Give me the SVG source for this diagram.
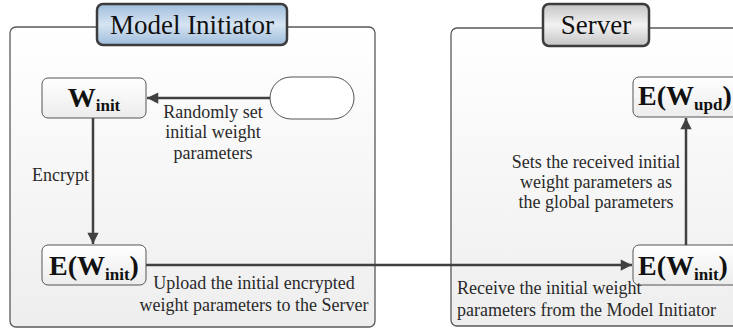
<svg xmlns="http://www.w3.org/2000/svg" width="733" height="330" viewBox="0 0 733 330">
<defs>
<linearGradient id="gCont" x1="0" y1="0" x2="0" y2="1"><stop offset="0" stop-color="#ffffff"/><stop offset="1" stop-color="#eeeeee"/></linearGradient>
<linearGradient id="gNode" x1="0" y1="0" x2="0" y2="1"><stop offset="0" stop-color="#ffffff"/><stop offset="1" stop-color="#ececec"/></linearGradient>
<linearGradient id="gBlue" x1="0" y1="0" x2="0" y2="1"><stop offset="0" stop-color="#9fbddb"/><stop offset="0.5" stop-color="#d6e4f2"/><stop offset="1" stop-color="#9fbddb"/></linearGradient>
<linearGradient id="gGray" x1="0" y1="0" x2="0" y2="1"><stop offset="0" stop-color="#c4c4c4"/><stop offset="0.5" stop-color="#f2f2f2"/><stop offset="1" stop-color="#c4c4c4"/></linearGradient>
<marker id="arr" viewBox="0 0 10 10" refX="10" refY="5" markerWidth="5" markerHeight="4.5" orient="auto" markerUnits="strokeWidth"><path d="M0,0 L10,5 L0,10 z" fill="#404040"/></marker>
</defs>
<style>
.cont{fill:url(#gCont);stroke:#5a5a5a;stroke-width:1.3}
.node{fill:url(#gNode);stroke:#555;stroke-width:1}
.title{stroke:#3c3c3c;stroke-width:2.5}
text{font-family:'Liberation Serif','Times New Roman','DejaVu Serif',serif}
.tt{font-size:27px;fill:#111}
.nt{font-size:28px;font-weight:bold;fill:#111}
.sub{font-size:17px}
.lb{font-size:18px;fill:#2a2a2a}
.edge{stroke:#404040;stroke-width:2.5;fill:none;marker-end:url(#arr)}
</style>
<g id="model-initiator">
<rect class="cont" x="10" y="27" width="365" height="300" rx="6"/>
<rect class="title" fill="url(#gBlue)" x="97" y="4" width="190" height="41" rx="6"/>
<text class="tt" font-family="Liberation Serif, serif" x="192" y="34" text-anchor="middle">Model Initiator</text>
</g>
<g id="server">
<rect class="cont" x="451" y="28" width="320" height="298" rx="6"/>
<rect class="title" fill="url(#gGray)" x="543" y="4" width="106" height="42" rx="6"/>
<text class="tt" font-family="Liberation Serif, serif" x="596" y="34" text-anchor="middle">Server</text>
</g>
<g id="start">
<rect x="270" y="77" width="84" height="42" rx="21" fill="#ffffff" stroke="#555" stroke-width="1"/>
</g>
<g id="w-init">
<rect class="node" x="42" y="78" width="104" height="40" rx="6"/>
<text class="nt" font-family="Liberation Serif, serif" x="94" y="107" text-anchor="middle">W<tspan class="sub" dy="4">init</tspan></text>
</g>
<g id="e-w-init-left">
<rect class="node" x="42" y="245" width="104" height="40" rx="6"/>
<text class="nt" font-family="Liberation Serif, serif" x="94" y="275" text-anchor="middle">E(W<tspan class="sub" dy="5">init</tspan><tspan dy="-5">)</tspan></text>
</g>
<g id="e-w-init-server">
<rect class="node" x="633" y="245" width="107" height="40" rx="6"/>
<text class="nt" font-family="Liberation Serif, serif" x="638" y="275">E(W<tspan class="sub" dy="5">init</tspan><tspan dy="-5">)</tspan></text>
</g>
<g id="e-w-upd">
<rect class="node" x="633" y="77" width="107" height="40" rx="6"/>
<text class="nt" font-family="Liberation Serif, serif" x="638" y="105">E(W<tspan class="sub" dy="5">upd</tspan><tspan dy="-5">)</tspan></text>
</g>
<g id="connectors">
<line class="edge" x1="270" y1="98" x2="147" y2="98"/>
<line class="edge" x1="93" y1="118" x2="93" y2="244"/>
<line class="edge" x1="146" y1="265" x2="632" y2="265"/>
<line class="edge" x1="686" y1="245" x2="686" y2="118"/>
</g>
<g id="labels" font-family="Liberation Serif, serif">
<text class="lb" x="213" y="118" text-anchor="middle">Randomly set</text>
<text class="lb" x="213" y="138" text-anchor="middle">initial weight</text>
<text class="lb" x="213" y="159" text-anchor="middle">parameters</text>
<text class="lb" x="89" y="181" text-anchor="end">Encrypt</text>
<text class="lb" x="254" y="289" text-anchor="middle">Upload the initial encrypted</text>
<text class="lb" x="254" y="311" text-anchor="middle">weight parameters to the Server</text>
<text class="lb" x="596" y="168" text-anchor="middle">Sets the received initial</text>
<text class="lb" x="596" y="188" text-anchor="middle">weight parameters as</text>
<text class="lb" x="596" y="208" text-anchor="middle">the global parameters</text>
<text class="lb" x="457" y="294">Receive the initial weight</text>
<text class="lb" x="457" y="316">parameters from the Model Initiator</text>
</g>
</svg>
